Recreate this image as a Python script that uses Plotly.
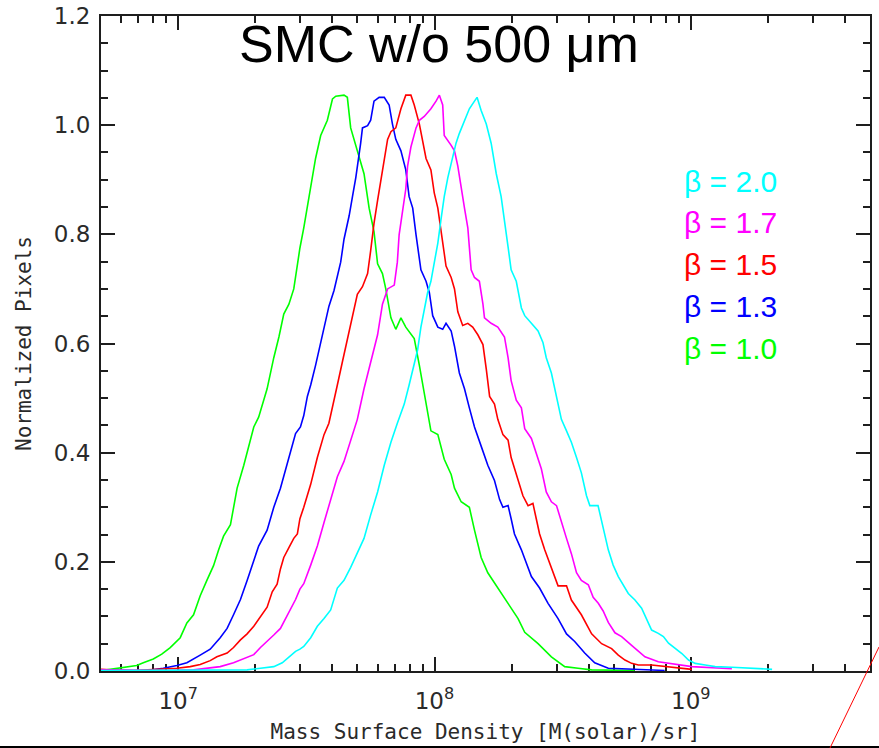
import numpy as np
import plotly.graph_objects as go

# Normalized pixel histograms of SMC mass surface density for several
# dust emissivity indices (beta). x values are log10(M(solar)/sr).
beta_labels = ["β = 2.0", "β = 1.7", "β = 1.5", "β = 1.3", "β = 1.0"]
beta_colors = ["#00FFFF", "#FF00FF", "#FF0000", "#0000FF", "#00FF00"]

log_sd_b10 = [6.721, 6.773, 6.838, 6.864, 6.903, 6.936, 6.969, 7.008, 7.034, 7.060,
              7.086, 7.112, 7.138, 7.158, 7.177, 7.204, 7.230, 7.256, 7.275, 7.295,
              7.314, 7.347, 7.373, 7.393, 7.412, 7.432, 7.451, 7.475, 7.490, 7.517,
              7.536, 7.556, 7.569, 7.582, 7.602, 7.615, 7.647, 7.660, 7.673, 7.686,
              7.699, 7.725, 7.745, 7.764, 7.778, 7.797, 7.810, 7.830, 7.849, 7.869,
              7.888, 7.921, 7.941, 7.960, 7.986, 8.013, 8.038, 8.065, 8.078, 8.104,
              8.136, 8.156, 8.182, 8.208, 8.247, 8.287, 8.326, 8.352, 8.404, 8.456,
              8.508, 8.560, 8.613, 8.781]
norm_b10 = [0.002, 0.006, 0.010, 0.015, 0.022, 0.031, 0.043, 0.061, 0.088, 0.103,
            0.138, 0.166, 0.193, 0.222, 0.247, 0.268, 0.335, 0.377, 0.412, 0.447,
            0.465, 0.517, 0.574, 0.612, 0.654, 0.672, 0.700, 0.775, 0.812, 0.883,
            0.939, 0.981, 0.995, 1.009, 1.048, 1.053, 1.055, 1.051, 0.995, 0.974,
            0.957, 0.911, 0.848, 0.805, 0.746, 0.728, 0.700, 0.647, 0.626, 0.647,
            0.630, 0.609, 0.560, 0.510, 0.440, 0.433, 0.388, 0.360, 0.335, 0.310,
            0.300, 0.258, 0.208, 0.180, 0.152, 0.124, 0.096, 0.071, 0.050, 0.026,
            0.008, 0.005, 0.002, 0.001]

log_sd_b13 = [6.877, 6.942, 6.995, 7.034, 7.086, 7.125, 7.164, 7.191, 7.216, 7.243,
              7.269, 7.295, 7.314, 7.347, 7.373, 7.399, 7.419, 7.445, 7.458, 7.477,
              7.490, 7.504, 7.517, 7.536, 7.556, 7.569, 7.588, 7.608, 7.621, 7.634,
              7.647, 7.667, 7.680, 7.693, 7.712, 7.719, 7.739, 7.751, 7.764, 7.784,
              7.804, 7.823, 7.836, 7.849, 7.869, 7.888, 7.901, 7.915, 7.928, 7.941,
              7.947, 7.967, 7.980, 7.993, 8.013, 8.032, 8.045, 8.065, 8.078, 8.097,
              8.117, 8.136, 8.156, 8.182, 8.208, 8.234, 8.254, 8.267, 8.287, 8.299,
              8.312, 8.339, 8.378, 8.410, 8.443, 8.482, 8.515, 8.547, 8.586, 8.625,
              8.678, 8.730, 8.898]
norm_b13 = [0.001, 0.005, 0.010, 0.015, 0.029, 0.040, 0.061, 0.078, 0.103, 0.131,
            0.166, 0.201, 0.229, 0.258, 0.300, 0.335, 0.370, 0.415, 0.435, 0.447,
            0.468, 0.503, 0.524, 0.560, 0.602, 0.630, 0.668, 0.697, 0.721, 0.749,
            0.791, 0.834, 0.869, 0.904, 0.967, 0.995, 0.999, 1.009, 1.044, 1.051,
            1.051, 1.037, 1.002, 0.974, 0.953, 0.918, 0.869, 0.848, 0.799, 0.756,
            0.735, 0.714, 0.693, 0.651, 0.630, 0.626, 0.637, 0.623, 0.595, 0.546,
            0.517, 0.482, 0.447, 0.412, 0.377, 0.349, 0.314, 0.300, 0.303, 0.279,
            0.251, 0.222, 0.173, 0.152, 0.124, 0.096, 0.068, 0.054, 0.033, 0.015,
            0.005, 0.004, 0.001]

log_sd_b15 = [6.699, 6.734, 6.825, 6.995, 7.047, 7.086, 7.125, 7.151, 7.191, 7.216,
              7.243, 7.269, 7.295, 7.321, 7.347, 7.367, 7.386, 7.399, 7.412, 7.432,
              7.451, 7.465, 7.475, 7.490, 7.517, 7.543, 7.569, 7.588, 7.602, 7.621,
              7.641, 7.660, 7.680, 7.699, 7.719, 7.739, 7.751, 7.764, 7.778, 7.791,
              7.804, 7.817, 7.830, 7.849, 7.869, 7.888, 7.908, 7.921, 7.941, 7.954,
              7.967, 7.986, 7.999, 8.013, 8.032, 8.045, 8.065, 8.078, 8.091, 8.110,
              8.130, 8.149, 8.169, 8.189, 8.202, 8.215, 8.234, 8.247, 8.267, 8.287,
              8.299, 8.312, 8.326, 8.345, 8.365, 8.384, 8.397, 8.410, 8.430, 8.456,
              8.482, 8.515, 8.534, 8.573, 8.613, 8.652, 8.691, 8.717, 8.743, 8.769,
              8.795, 8.847, 8.899, 9.004]
norm_b15 = [0.003, 0.002, 0.001, 0.005, 0.008, 0.012, 0.019, 0.026, 0.033, 0.043,
            0.057, 0.068, 0.082, 0.099, 0.117, 0.145, 0.159, 0.187, 0.208, 0.226,
            0.243, 0.251, 0.279, 0.300, 0.342, 0.391, 0.433, 0.454, 0.482, 0.524,
            0.567, 0.609, 0.651, 0.690, 0.704, 0.728, 0.770, 0.820, 0.862, 0.897,
            0.939, 0.974, 0.988, 0.995, 1.030, 1.055, 1.055, 1.037, 1.002, 0.967,
            0.939, 0.918, 0.876, 0.848, 0.784, 0.742, 0.721, 0.700, 0.658, 0.633,
            0.637, 0.630, 0.616, 0.598, 0.553, 0.503, 0.489, 0.461, 0.433, 0.423,
            0.391, 0.370, 0.349, 0.321, 0.303, 0.307, 0.279, 0.251, 0.222, 0.187,
            0.156, 0.156, 0.130, 0.103, 0.068, 0.050, 0.041, 0.029, 0.020, 0.014,
            0.011, 0.011, 0.008, 0.003]

log_sd_b17 = [6.699, 6.956, 7.060, 7.125, 7.164, 7.216, 7.256, 7.295, 7.321, 7.347,
              7.373, 7.399, 7.419, 7.438, 7.458, 7.475, 7.490, 7.517, 7.543, 7.569,
              7.595, 7.621, 7.647, 7.673, 7.699, 7.725, 7.751, 7.778, 7.797, 7.817,
              7.843, 7.855, 7.862, 7.876, 7.888, 7.895, 7.908, 7.928, 7.941, 7.960,
              7.986, 8.006, 8.019, 8.032, 8.038, 8.065, 8.078, 8.091, 8.104, 8.117,
              8.130, 8.143, 8.156, 8.175, 8.189, 8.195, 8.221, 8.247, 8.273, 8.287,
              8.299, 8.319, 8.339, 8.352, 8.378, 8.397, 8.417, 8.436, 8.456, 8.476,
              8.495, 8.515, 8.534, 8.554, 8.573, 8.600, 8.619, 8.639, 8.658, 8.678,
              8.704, 8.730, 8.769, 8.821, 8.873, 8.952, 9.004, 9.160]
norm_b17 = [0.002, 0.001, 0.002, 0.005, 0.008, 0.015, 0.022, 0.030, 0.043, 0.054,
            0.066, 0.078, 0.096, 0.114, 0.131, 0.150, 0.160, 0.194, 0.229, 0.272,
            0.314, 0.356, 0.384, 0.423, 0.461, 0.517, 0.567, 0.616, 0.672, 0.700,
            0.707, 0.749, 0.799, 0.841, 0.883, 0.925, 0.960, 0.995, 1.009, 1.016,
            1.030, 1.044, 1.055, 1.037, 0.981, 0.963, 0.953, 0.925, 0.890, 0.848,
            0.812, 0.735, 0.721, 0.714, 0.672, 0.647, 0.637, 0.630, 0.612, 0.574,
            0.532, 0.496, 0.482, 0.444, 0.426, 0.398, 0.370, 0.328, 0.310, 0.303,
            0.272, 0.243, 0.215, 0.180, 0.166, 0.158, 0.135, 0.124, 0.110, 0.089,
            0.070, 0.063, 0.047, 0.026, 0.017, 0.011, 0.008, 0.004]

log_sd_b20 = [6.699, 7.204, 7.269, 7.321, 7.373, 7.406, 7.432, 7.458, 7.475, 7.490,
              7.517, 7.543, 7.569, 7.595, 7.621, 7.647, 7.673, 7.699, 7.725, 7.751,
              7.778, 7.804, 7.830, 7.855, 7.882, 7.901, 7.915, 7.934, 7.947, 7.960,
              7.973, 7.986, 7.999, 8.013, 8.025, 8.038, 8.052, 8.065, 8.084, 8.097,
              8.117, 8.136, 8.156, 8.166, 8.182, 8.202, 8.221, 8.241, 8.260, 8.273,
              8.287, 8.299, 8.319, 8.339, 8.352, 8.378, 8.404, 8.423, 8.436, 8.456,
              8.476, 8.495, 8.515, 8.534, 8.554, 8.573, 8.593, 8.606, 8.638, 8.658,
              8.678, 8.697, 8.717, 8.756, 8.782, 8.808, 8.828, 8.847, 8.873, 8.893,
              8.913, 8.939, 8.965, 8.991, 9.017, 9.056, 9.095, 9.160, 9.239, 9.317]
norm_b20 = [0.001, 0.001, 0.002, 0.005, 0.008, 0.015, 0.026, 0.036, 0.040, 0.045,
            0.061, 0.082, 0.096, 0.112, 0.152, 0.166, 0.190, 0.215, 0.243, 0.286,
            0.328, 0.377, 0.419, 0.454, 0.489, 0.524, 0.553, 0.588, 0.630, 0.665,
            0.693, 0.714, 0.749, 0.784, 0.826, 0.869, 0.904, 0.930, 0.967, 0.985,
            1.009, 1.030, 1.044, 1.051, 1.027, 1.002, 0.967, 0.911, 0.869, 0.820,
            0.777, 0.735, 0.714, 0.665, 0.651, 0.637, 0.623, 0.602, 0.574, 0.546,
            0.503, 0.461, 0.440, 0.419, 0.391, 0.363, 0.321, 0.303, 0.303, 0.264,
            0.222, 0.194, 0.173, 0.142, 0.130, 0.115, 0.093, 0.075, 0.069, 0.063,
            0.051, 0.041, 0.032, 0.020, 0.014, 0.011, 0.008, 0.007, 0.005, 0.003]

x_tick_vals = [1e7, 1e8, 1e9]
x_tick_text = ["10<sup>7</sup>", "10<sup>8</sup>", "10<sup>9</sup>"]

# drawing order: green first, cyan last
series = [
    (log_sd_b10, norm_b10, beta_colors[4], beta_labels[4]),
    (log_sd_b13, norm_b13, beta_colors[3], beta_labels[3]),
    (log_sd_b15, norm_b15, beta_colors[2], beta_labels[2]),
    (log_sd_b17, norm_b17, beta_colors[1], beta_labels[1]),
    (log_sd_b20, norm_b20, beta_colors[0], beta_labels[0]),
]

fig = go.Figure()
for logx, yv, col, name in series:
    fig.add_trace(go.Scatter(
        x=10 ** np.array(logx), y=yv, mode="lines", name=name,
        line=dict(color=col, width=1.6), showlegend=False,
    ))

axis_col = "#1e1e1e"
tick_font = dict(family="DejaVu Sans", size=23, color="#2a2a2a")
title_font = dict(family="DejaVu Sans Mono", size=21, color="#2a2a2a")
minor_x = [m * 10 ** e for e in (6, 7, 8, 9) for m in range(2, 10)]

fig.update_xaxes(
    type="log", range=[np.log10(5e6), np.log10(5e9)], automargin=False,
    showline=True, linecolor=axis_col, linewidth=2, mirror="ticks",
    ticks="inside", ticklen=14, tickwidth=2, tickcolor=axis_col,
    tickvals=x_tick_vals, ticktext=x_tick_text, tickfont=tick_font,
    ticklabelstandoff=8,
    minor=dict(tickvals=minor_x, ticks="inside", ticklen=7, tickwidth=2,
               tickcolor=axis_col, showgrid=False),
    showgrid=False, zeroline=False, layer="below traces",
    title=dict(text="Mass Surface Density [M(solar)/sr]", font=title_font, standoff=12),
)
fig.update_yaxes(
    range=[0, 1.2], tick0=0, dtick=0.2, tickformat=".1f", automargin=False,
    showline=True, linecolor=axis_col, linewidth=2, mirror="ticks",
    ticks="inside", ticklen=14, tickwidth=2, tickcolor=axis_col,
    tickfont=tick_font, ticklabelstandoff=4,
    minor=dict(dtick=0.05, ticks="inside", ticklen=7, tickwidth=2,
               tickcolor=axis_col, showgrid=False),
    showgrid=False, zeroline=False, layer="below traces",
    title=dict(text="Normalized Pixels", font=title_font, standoff=16),
)

annotations = [dict(
    text="SMC w/o 500 μm", xref="paper", yref="paper", x=0.4395, y=0.957,
    xanchor="center", yanchor="middle", showarrow=False,
    font=dict(family="Liberation Sans", size=52, color="black"),
)]
# coloured beta labels stacked down the right side
label_top, label_step = 0.748, 0.064
for i, (lab, col) in enumerate(zip(beta_labels, beta_colors)):
    annotations.append(dict(
        text=lab, xref="paper", yref="paper", x=0.755, y=label_top - i * label_step,
        xanchor="left", yanchor="middle", showarrow=False,
        font=dict(family="Liberation Sans", size=30, color=col),
    ))

fig.update_layout(
    width=879, height=748,
    margin=dict(l=101, r=9, t=16, b=77),
    plot_bgcolor="white", paper_bgcolor="white",
    annotations=annotations,
    shapes=[
        dict(type="line", xref="paper", yref="paper", x0=-0.14, x1=1.02,
             y0=-0.116, y1=-0.116, line=dict(color="black", width=2)),
        dict(type="line", xref="paper", yref="paper", x0=1.0117, y0=0.0366,
             x1=0.948, y1=-0.1176, line=dict(color="#FF0000", width=1)),
    ],
)

fig.write_html("out.html")
